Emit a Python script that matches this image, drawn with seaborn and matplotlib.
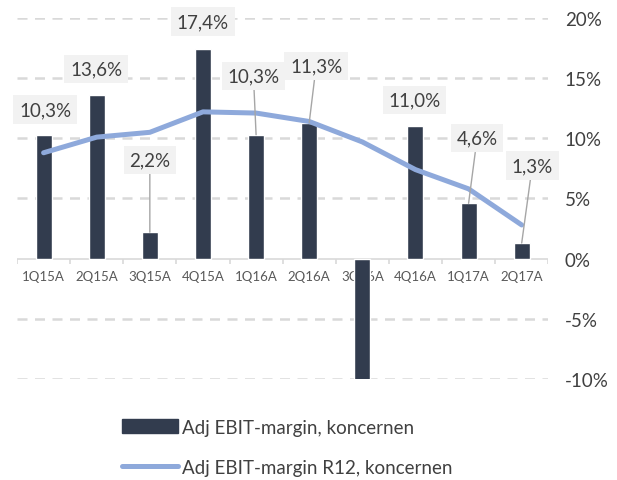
import numpy as np
import matplotlib
matplotlib.use("Agg")
import matplotlib.pyplot as plt
import seaborn as sns
from matplotlib.ticker import FuncFormatter
from matplotlib.lines import Line2D
from matplotlib.patches import Patch

# Data
quarters = ["1Q15A", "2Q15A", "3Q15A", "4Q15A", "1Q16A",
            "2Q16A", "3Q16A", "4Q16A", "1Q17A", "2Q17A"]
ebit_margin = [10.3, 13.6, 2.2, 17.4, 10.3, 11.3, -10.1, 11.0, 4.6, 1.3]
ebit_r12 = [8.8, 10.1, 10.5, 12.2, 12.1, 11.4, 9.7, 7.4, 5.8, 2.8]
label_text = ["10,3%", "13,6%", "2,2%", "17,4%", "10,3%", "11,3%", None, "11,0%", "4,6%", "1,3%"]

# label placement (data coords) and whether a leader line is drawn
label_pos = [(0.03, 12.4), (0.99, 15.75), (2.0, 8.2), (3.0, 19.7), (3.95, 15.2),
             (5.13, 16.0), None, (6.98, 13.2), (8.16, 10.0), (9.2, 7.75)]
leader = [False, False, True, False, True, True, False, False, True, True]

bar_color = "#323C4E"
line_color = "#8EA9DB"
text_color = "#404040"
grid_color = "#D9D9D9"

sns.set_theme(style="white")
plt.rcParams["font.family"] = ["Lato", "DejaVu Sans"]

fig = plt.figure(figsize=(6.17, 4.81), dpi=100)
ax = fig.add_axes([0.0276, 0.21, 0.861, 0.7505])

x = np.arange(len(quarters))
sns.barplot(x=x, y=ebit_margin, color=bar_color, width=0.3, saturation=1, ax=ax, zorder=3)
sns.lineplot(x=x, y=ebit_r12, color=line_color, linewidth=3.6, ax=ax, zorder=4)

ax.set_xlim(-0.5, len(quarters) - 0.5)
ax.set_ylim(-10, 20)

# gridlines (dashed) except zero
for yv in [-10, -5, 5, 10, 15, 20]:
    ax.axhline(yv, color=grid_color, lw=1.8, ls=(0, (4, 3)), zorder=1)
ax.axhline(0, color=grid_color, lw=1.2, zorder=2)
ax.vlines(np.arange(-0.5, len(quarters)), 0, -0.45, color=grid_color, lw=1.2, zorder=2)

for s in ax.spines.values():
    s.set_visible(False)

ax.set_xticks([])
ax.yaxis.tick_right()
ax.set_yticks([-10, -5, 0, 5, 10, 15, 20])
ax.yaxis.set_major_formatter(FuncFormatter(lambda v, p: f"{v:.0f}%".replace("\u2212", "-")))
ax.tick_params(axis="y", length=0, pad=12, labelsize=13.5, labelcolor=text_color)

# category labels next to zero line
for i, q in enumerate(quarters):
    ax.annotate(q, (i, 0), xytext=(0, -8.5), textcoords="offset points",
                ha="center", va="top", fontsize=9.5, color="#595959", zorder=2)

# data labels
for i, t in enumerate(label_text):
    if t is None:
        continue
    lx, ly = label_pos[i]
    props = dict(arrowstyle="-", color="#A6A6A6", lw=1, shrinkA=0, shrinkB=0) if leader[i] else None
    ax.annotate(t, xy=(i, ebit_margin[i]), xytext=(lx, ly), textcoords="data",
                ha="center", va="center", fontsize=13.5, color=text_color,
                bbox=dict(boxstyle="square,pad=0.3", fc="#F2F2F2", ec="none"),
                arrowprops=props, zorder=5)

handles = [Patch(color=bar_color), Line2D([0], [0], color=line_color, lw=3.6)]
fig.legend(handles, ["Adj EBIT-margin, koncernen", "Adj EBIT-margin R12, koncernen"],
           loc="center", bbox_to_anchor=(0.465, 0.068), ncol=1, frameon=False,
           fontsize=13.5, labelcolor=text_color, handlelength=3.0, handleheight=0.8,
           handletextpad=0.2, labelspacing=1.25)

fig.savefig("out.png", dpi=100)
